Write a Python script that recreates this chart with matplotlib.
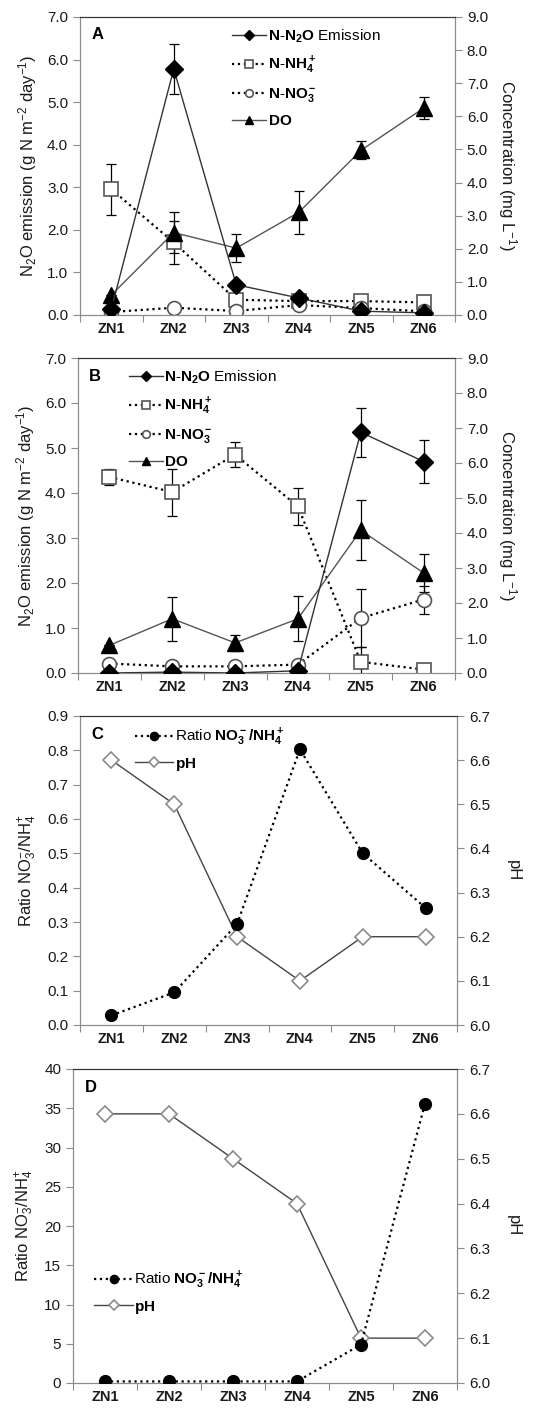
import numpy as np
import matplotlib
matplotlib.use("Agg")
import matplotlib.pyplot as plt

plt.rcParams['font.family'] = ['Liberation Sans', 'DejaVu Sans']
plt.rcParams['mathtext.fontset'] = 'custom'
plt.rcParams['mathtext.rm'] = 'Liberation Sans'
plt.rcParams['mathtext.bf'] = 'Liberation Sans:bold'
plt.rcParams['mathtext.it'] = 'Liberation Sans:italic'

zones = ['ZN1', 'ZN2', 'ZN3', 'ZN4', 'ZN5', 'ZN6']

# Panel A
a_n2o = [0.13, 5.78, 0.71, 0.40, 0.09, 0.05]
a_n2o_err = [0, 0.58, 0, 0, 0, 0]
a_nh4 = [3.80, 2.19, 0.46, 0.42, 0.42, 0.38]
a_nh4_err = [0.77, 0.66, 0, 0, 0, 0]
a_no3 = [0.09, 0.22, 0.12, 0.30, 0.21, 0.11]
a_no3_err = [0, 0, 0, 0, 0, 0]
a_do = [0.60, 2.49, 2.02, 3.10, 4.98, 6.25]
a_do_err = [0, 0.62, 0.42, 0.66, 0.28, 0.32]

# Panel B
b_n2o = [0.0, 0.02, 0.0, 0.05, 5.35, 4.70]
b_n2o_err = [0, 0, 0, 0, 0.55, 0.47]
b_nh4 = [5.60, 5.17, 6.24, 4.76, 0.32, 0.10]
b_nh4_err = [0.22, 0.67, 0.36, 0.53, 0.42, 0]
b_no3 = [0.27, 0.19, 0.19, 0.24, 1.57, 2.10]
b_no3_err = [0, 0, 0, 0, 0.84, 0.40]
b_do = [0.79, 1.55, 0.86, 1.55, 4.08, 2.86]
b_do_err = [0, 0.63, 0.22, 0.64, 0.85, 0.55]

# Panel C
c_ratio = [0.028, 0.095, 0.294, 0.803, 0.500, 0.341]
c_ph = [6.6, 6.5, 6.2, 6.1, 6.2, 6.2]

# Panel D
d_ratio = [0.2, 0.2, 0.2, 0.2, 4.9, 35.6]
d_ph = [6.6, 6.6, 6.5, 6.4, 6.1, 6.1]

W, H = 544, 1410
fig = plt.figure(figsize=(W / 100, H / 100), dpi=100)

def box(x0, y0, x1, y1):
    return [x0 / W, 1 - y1 / H, (x1 - x0) / W, (y1 - y0) / H]

GRAY = '#8c8c8c'
TXT = '#1a1a1a'
x = np.arange(len(zones))


def style_axes(ax, ax2, ylim, yticks, fmt, ylim2, yticks2, fmt2):
    ax.set_xlim(-0.5, len(zones) - 0.5)
    ax.set_ylim(*ylim)
    ax.set_yticks(yticks)
    ax.set_yticklabels([fmt.format(v) for v in yticks])
    ax2.set_ylim(*ylim2)
    ax2.set_yticks(yticks2)
    ax2.set_yticklabels([fmt2.format(v) for v in yticks2])
    ax.set_xticks(np.arange(-0.5, len(zones)))
    ax.set_xticklabels([])
    ax.set_xticks(x, minor=True)
    ax.set_xticklabels(zones, minor=True, fontweight='bold', fontsize=10.5, color=TXT)
    ax.tick_params(axis='x', which='minor', length=0, pad=5)
    ax.tick_params(axis='x', which='major', length=5, color=GRAY, direction='out')
    ax.tick_params(axis='y', length=5, color=GRAY, labelsize=11, labelcolor=TXT)
    ax2.tick_params(axis='y', length=5, color=GRAY, labelsize=11, labelcolor=TXT)
    for a in (ax, ax2):
        for s in ['left', 'right', 'bottom']:
            a.spines[s].set_color(GRAY)
        a.spines['top'].set_color('#333333')
    ax.set_zorder(ax2.get_zorder() + 1)
    ax.patch.set_visible(False)


def err(ax, vals, e):
    ax.errorbar(x, vals, yerr=e, fmt='none', ecolor='black', elinewidth=0.9,
                capsize=3.5, capthick=0.9, zorder=2)


def conc_panel(rect, letter, n2o, n2o_e, nh4, nh4_e, no3, no3_e, do, do_e, leg_anchor):
    ax = fig.add_axes(box(*rect))
    ax2 = ax.twinx()
    err(ax2, nh4, nh4_e)
    err(ax2, no3, no3_e)
    err(ax2, do, do_e)
    err(ax, n2o, n2o_e)
    l2, = ax2.plot(x, nh4, ls=':', color='black', lw=1.6, marker='s', ms=10,
                   mfc='white', mec='#555555', mew=1.2, zorder=3)
    l3, = ax2.plot(x, no3, ls=':', color='black', lw=1.6, marker='o', ms=10,
                   mfc='white', mec='#555555', mew=1.2, zorder=3)
    l4, = ax2.plot(x, do, ls='-', color='#555555', lw=1.0, marker='^', ms=11,
                   mfc='black', mec='black', zorder=4)
    l1, = ax.plot(x, n2o, ls='-', color='#333333', lw=1.0, marker='D', ms=9,
                  mfc='black', mec='black', zorder=5)
    style_axes(ax, ax2, (0, 7), np.arange(0, 7.1, 1), '{:.1f}',
               (0, 9), np.arange(0, 9.1, 1), '{:.1f}')
    ax.set_ylabel(r'N$_2$O emission (g N m$^{-2}$ day$^{-1}$)', fontsize=12, color=TXT, labelpad=6)
    ax2.set_ylabel(r'Concentration (mg L$^{-1}$)', fontsize=12, color=TXT, rotation=270, labelpad=22)
    ax.text(0.03, 0.965, letter, transform=ax.transAxes, fontweight='bold', fontsize=12,
            va='top', ha='left')
    labels = [r'$\mathbf{N}$-$\mathbf{N_2O}$ Emission', r'$\mathbf{N}$-$\mathbf{NH_4^+}$',
              r'$\mathbf{N}$-$\mathbf{NO_3^-}$', r'$\mathbf{DO}$']
    leg = ax.legend([l1, l2, l3, l4], labels, loc='upper left', bbox_to_anchor=leg_anchor,
                    frameon=False, fontsize=11, handlelength=2.2, handletextpad=0.1,
                    markerscale=0.55, labelspacing=0.65, borderaxespad=0)
    leg.set_zorder(10)
    return ax, ax2


conc_panel((80, 17, 455, 315), 'A', a_n2o, a_n2o_err, a_nh4, a_nh4_err,
           a_no3, a_no3_err, a_do, a_do_err, (0.39, 0.985))
conc_panel((78, 358, 455, 673), 'B', b_n2o, b_n2o_err, b_nh4, b_nh4_err,
           b_no3, b_no3_err, b_do, b_do_err, (0.12, 0.985))


def ratio_panel(rect, letter, ratio, ph, ylim, yticks, fmt, leg_anchor):
    ax = fig.add_axes(box(*rect))
    ax2 = ax.twinx()
    p, = ax2.plot(x, ph, ls='-', color='#444444', lw=1.0, marker='D', ms=8,
                  mfc='white', mec='#8a8a8a', mew=1.2, zorder=3)
    r, = ax.plot(x, ratio, ls=':', color='black', lw=1.6, marker='o', ms=8.5,
                 mfc='black', mec='black', zorder=5)
    style_axes(ax, ax2, ylim, yticks, fmt, (6.0, 6.7), np.arange(6.0, 6.71, 0.1), '{:.1f}')
    ax.set_ylabel(r'Ratio NO$_3^{-}$/NH$_4^{+}$', fontsize=12, color=TXT, labelpad=6)
    ax2.set_ylabel('pH', fontsize=12, color=TXT, rotation=270, labelpad=22)
    ax.text(0.03, 0.965, letter, transform=ax.transAxes, fontweight='bold', fontsize=12,
            va='top', ha='left')
    labels = [r'Ratio $\mathbf{NO_3^-/NH_4^+}$', r'$\mathbf{pH}$']
    leg = ax.legend([r, p], labels, loc='upper left', bbox_to_anchor=leg_anchor, frameon=False,
                    fontsize=11, handlelength=2.5, handletextpad=0.1, markerscale=0.7,
                    labelspacing=0.5, borderaxespad=0)
    leg.set_zorder(10)


ratio_panel((80, 716, 457, 1025), 'C', c_ratio, c_ph, (0, 0.9),
            np.arange(0, 0.91, 0.1), '{:.1f}', (0.13, 0.985))
ratio_panel((73, 1069, 457, 1383), 'D', d_ratio, d_ph, (0, 40),
            np.arange(0, 41, 5), '{:.0f}', (0.04, 0.38))

fig.savefig('out.png', dpi=100)
